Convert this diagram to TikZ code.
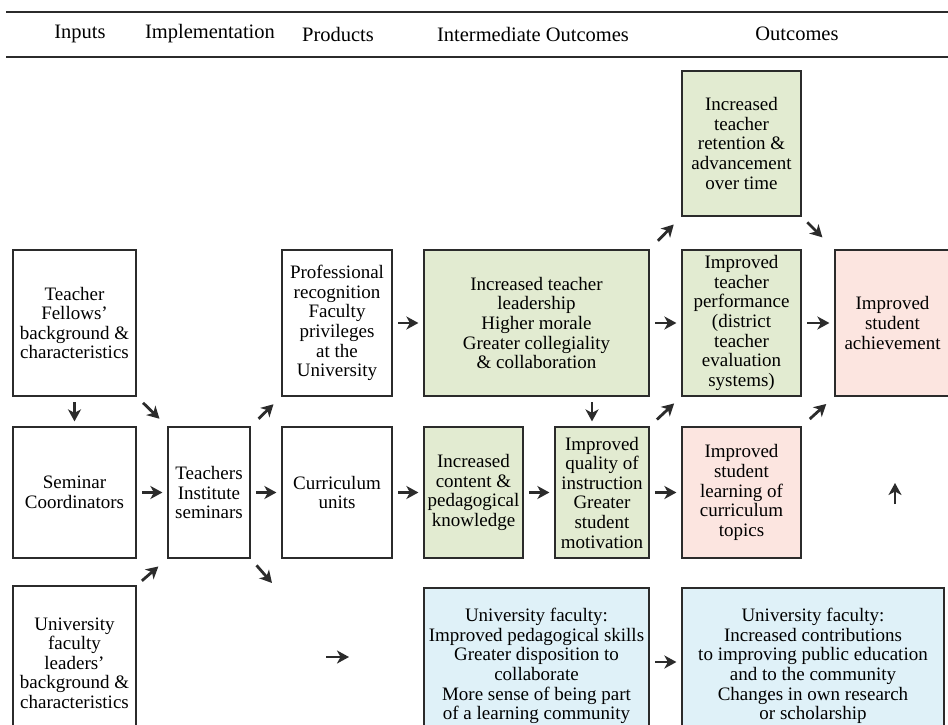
\documentclass[tikz,border=0pt]{standalone}
\usepackage{fontspec}
\setmainfont{Liberation Serif}
\usetikzlibrary{positioning,arrows.meta}
\definecolor{ink}{HTML}{2B2B2B}
\definecolor{lightgreen}{HTML}{E2EBD1}
\definecolor{lightpink}{HTML}{FCE5E0}
\definecolor{lightsky}{HTML}{DFF1F8}
\tikzset{
  box/.style={draw=ink,line width=1.2pt,inner sep=0pt,align=center,font=\fontsize{19}{19.6}\selectfont},
  greenbox/.style={box,fill=lightgreen},
  pinkbox/.style={box,fill=lightpink},
  bluebox/.style={box,fill=lightsky},
  arr/.style={-{Stealth[length=12pt,width=13pt,inset=3.5pt]},line width=2.8pt,ink,shorten <=5.5pt,shorten >=5pt},
  head/.style={font=\fontsize{20.5}{22}\selectfont}
}
\begin{document}
\begin{tikzpicture}[x=1pt,y=-1pt]
\clip (0,0) rectangle (948,725);
\fill[white] (0,0) rectangle (948,725);
% Header band
\draw[ink,line width=2pt] (6,12) -- (948,12);
\draw[ink,line width=2pt] (6,57) -- (948,57);
\foreach \x/\title/\name in {80/Inputs/hin,210/Implementation/him,338/Products/hpr,533/Intermediate Outcomes/hio,797/Outcomes/hou}{
  \node[head] (\name) at (\x,34) {\title};
}
% Inputs
\node[box,minimum width=123pt,minimum height=146pt] (tf) at (74.5,323) {Teacher\\Fellows'\\background \&\\characteristics};
\node[box,minimum width=123pt,minimum height=131pt] (sc) at (74.5,492.5) {Seminar\\Coordinators};
\node[box,minimum width=123pt,minimum height=154pt] (ul) at (74.5,663) {University\\faculty\\leaders'\\background \&\\characteristics};
% Implementation and products
\node[box,minimum width=82pt,minimum height=131pt] (ti) at (209,492.5) {Teachers\\Institute\\seminars};
\node[box,minimum width=110pt,minimum height=146pt] (pr) at (337,323) {Professional\\recognition\\Faculty\\privileges\\at the\\University};
\node[box,minimum width=110pt,minimum height=131pt] (cu) at (337,492.5) {Curriculum\\units};
% Intermediate outcomes
\node[greenbox,minimum width=225pt,minimum height=146pt] (le) at (536.5,323) {Increased teacher\\leadership\\Higher morale\\Greater collegiality\\\& collaboration};
\node[greenbox,minimum width=99pt,minimum height=131pt] (ck) at (473.5,492.5) {Increased\\content \&\\pedagogical\\knowledge};
\node[greenbox,minimum width=94pt,minimum height=131pt] (qi) at (602,492.5) {Improved\\quality of\\instruction\\Greater\\student\\motivation};
\node[bluebox,minimum width=225pt,minimum height=156pt] (uf) at (536.5,666) {University faculty:\\Improved pedagogical skills\\Greater disposition to\\collaborate\\More sense of being part\\of a learning community};
% Outcomes
\node[greenbox,minimum width=119pt,minimum height=145pt] (re) at (741.5,143.5) {Increased\\teacher\\retention \&\\advancement\\over time};
\node[greenbox,minimum width=119pt,minimum height=146pt] (tp) at (741.5,323) {Improved\\teacher\\performance\\(district\\teacher\\evaluation\\systems)};
\node[pinkbox,minimum width=119pt,minimum height=131pt] (sl) at (741.5,492.5) {Improved\\student\\learning of\\curriculum\\topics};
\node[pinkbox,minimum width=115pt,minimum height=146pt] (sa) at (892.5,323) {Improved\\student\\achievement};
\node[bluebox,minimum width=262pt,minimum height=156pt] (uc) at (813,666) {University faculty:\\Increased contributions\\to improving public education\\and to the community\\Changes in own research\\or scholarship};
% Straight arrows between neighbouring boxes
\foreach \a/\b in {sc/ti,ti/cu,cu/ck,ck/qi,qi/sl,pr/le,le/tp,tp/sa}{
  \draw[arr] (\a.east) -- (\b.west);
}
\draw[arr] (uf.east |- 0,662) -- (uc.west |- 0,662);
\draw[arr] (tf.south) -- (sc.north);
\path (qi.north) ++(-10,0) coordinate (qiin);
\draw[arr] (qiin |- le.south) -- (qiin);
% Diagonal arrows corner to corner
\draw[arr,shorten <=9pt,shorten >=11pt] (tf.south east) -- (ti.north west);
\draw[arr,shorten <=11pt,shorten >=11pt] (ti.north east) -- (pr.south west);
\draw[arr,shorten <=7pt,shorten >=12pt] (ul.north east) -- (ti.south west);
\draw[arr,shorten <=12pt,shorten >=11pt] (le.north east) -- (re.south west);
\draw[arr,shorten <=8pt,shorten >=17pt] (re.south east) -- (sa.north west);
\draw[arr,shorten <=10pt,shorten >=10pt] (qi.north east) -- (tp.south west);
\draw[arr,shorten <=11pt,shorten >=11pt] (sl.north east) -- (sa.south west);
% Arrows with a free end
\coordinate (tiout) at (272,583);
\draw[arr,shorten <=9pt,shorten >=0pt] (ti.south east) -- (tiout);
\coordinate (gapl) at (326,657);
\coordinate (gapr) at (349,657);
\draw[arr,shorten <=0pt,shorten >=0pt] (gapl) -- (gapr);
\coordinate (upl) at (895,504);
\coordinate (upr) at (895,483);
\draw[arr,shorten <=0pt,shorten >=0pt] (upl) -- (upr);
\end{tikzpicture}
\end{document}
